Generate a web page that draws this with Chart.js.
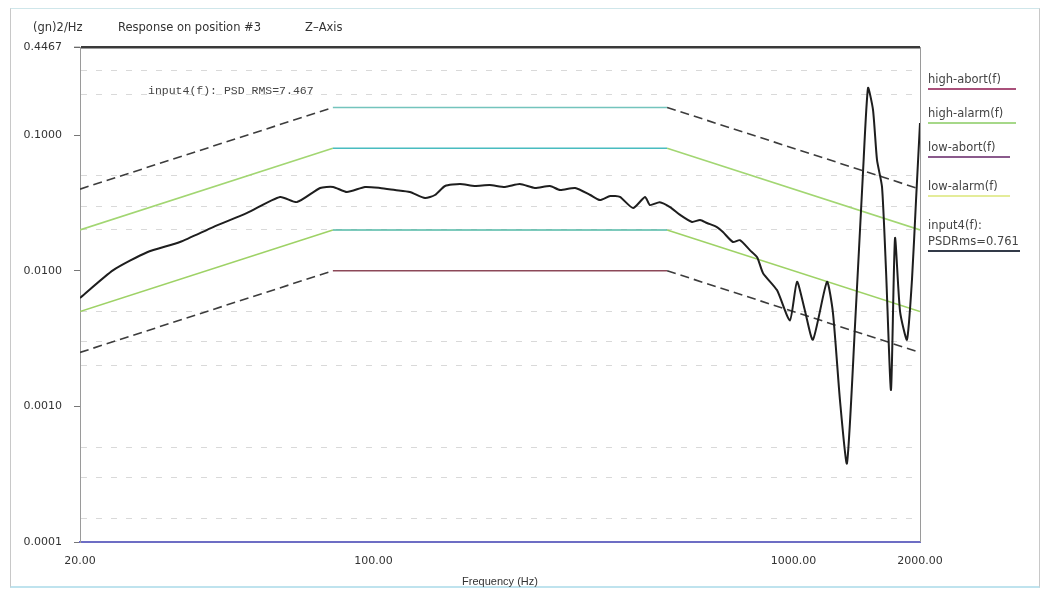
<!DOCTYPE html>
<html>
<head>
<meta charset="utf-8">
<script src="https://cdn.jsdelivr.net/npm/chart.js@4.4.1/dist/chart.umd.min.js"></script>
<style>
  html, body { margin: 0; padding: 0; background: #fff; }
  #wrap { position: relative; width: 1044px; height: 592px; overflow: hidden; font-family: "DejaVu Sans", Verdana, sans-serif; color: #333; }
  #frame { position: absolute; left: 10px; top: 8px; width: 1030px; height: 580px; border: 1px solid #c8c8c8; border-top-color: #cfe6ea; border-bottom: 2px solid #bfe3ee; box-sizing: border-box; }
  #chart { position: absolute; left: 0; top: 0; }
  .txt { position: absolute; font-size: 11.5px; white-space: nowrap; line-height: 14px; }
  .mono { font-family: "Liberation Mono", "DejaVu Sans Mono", monospace; font-size: 11.5px; color: #444; }
  .leg { position: absolute; left: 928px; font-size: 11.5px; line-height: 16px; color: #444; white-space: nowrap; padding-bottom: 1px; }
</style>
</head>
<body>
<div id="wrap">
  <div id="frame"></div>
  <canvas id="chart" width="1044" height="592"></canvas>
  <div class="txt" style="left:33px; top:20px;">(gn)2/Hz</div>
  <div class="txt" style="left:118px; top:20px;">Response on position #3</div>
  <div class="txt" style="left:305px; top:20px;">Z&#8211;Axis</div>
  <div class="txt mono" style="left:148px; top:84px;">input4(f): PSD RMS=7.467</div>
  <div class="leg" style="top:71px; width:88px; border-bottom:2px solid #a9507a;">high-abort(f)</div>
  <div class="leg" style="top:105px; width:88px; border-bottom:2px solid #a6d889;">high-alarm(f)</div>
  <div class="leg" style="top:139px; width:82px; border-bottom:2px solid #8a5a8c;">low-abort(f)</div>
  <div class="leg" style="top:178px; width:82px; border-bottom:2px solid #e4ec9a;">low-alarm(f)</div>
  <div class="leg" style="top:217px; width:92px; border-bottom:2px solid #333a48;">input4(f):<br>PSDRms=0.761</div>
</div>
<script>
// measured response (Hz, (gn)^2/Hz)
const responseFreq = [
  20, 24, 28.9, 34.6, 41.5, 50, 59.9, 65.7, 74.6, 80.1, 86.4, 95.4, 103.6, 112.5, 122,
  132.6, 140, 148, 160.6, 174, 189, 205.6, 223, 242, 263, 278, 302, 328, 346, 366,
  386, 415, 443, 455, 480, 508, 537, 573, 599, 622, 657, 679, 717, 745, 787, 819,
  846, 913, 980, 1019, 1064, 1112, 1201, 1241, 1290, 1340, 1400, 1463, 1504, 1546,
  1580, 1624, 1660, 1706, 1744, 1793, 1862, 1914, 1957, 2000
];
const responsePsd = [
  0.0063, 0.0101, 0.0137, 0.0163, 0.0210, 0.0267, 0.0350, 0.0321, 0.0408, 0.0415, 0.0381, 0.0415, 0.0408, 0.0394, 0.0381,
  0.0344, 0.0362, 0.0422, 0.0436, 0.0422, 0.0429, 0.0415, 0.0436, 0.0408, 0.0422, 0.0394, 0.0408, 0.0362, 0.0332, 0.0356,
  0.0350, 0.0290, 0.0350, 0.0305, 0.0320, 0.0295, 0.0258, 0.0229, 0.0237, 0.0225, 0.0210, 0.0193, 0.0163, 0.0168, 0.0142, 0.0126,
  0.0096, 0.0072, 0.0043, 0.0083, 0.0051, 0.0031, 0.0083, 0.0049, 0.0011, 0.00038, 0.00385, 0.0526, 0.2227, 0.1532,
  0.0656, 0.0415, 0.0101, 0.00132, 0.0174, 0.0050, 0.0031, 0.0086, 0.0332, 0.1229
];

// test profile breakpoints
const profileFreq = [20, 80, 500, 2000];
const highAbort = [0.04, 0.16, 0.16, 0.04];
const highAlarm = [0.02, 0.08, 0.08, 0.02];
const lowAlarm = [0.005, 0.02, 0.02, 0.005];
const lowAbort = [0.0025, 0.01, 0.01, 0.0025];

// axes
const xTickValues = [20, 100, 1000, 2000];
const xTickLabels = ['20.00', '100.00', '1000.00', '2000.00'];
const yTickValues = [0.0001, 0.001, 0.01, 0.1, 0.4467];
const yTickLabels = ['0.0001', '0.0010', '0.0100', '0.1000', '0.4467'];
const yMinorGrid = [0.00015, 0.0003, 0.0005, 0.002, 0.003, 0.005, 0.02, 0.03, 0.05, 0.2, 0.3];

const SLOPE_DASH = '#3c3c3c';
const TICK_FONT = { family: 'DejaVu Sans, Verdana, sans-serif', size: 11 };

function toPoints(xs, ys) {
  return xs.map((x, i) => ({ x, y: ys[i] }));
}

function profileDataset(label, values, slopeColor, flatColor, dashed) {
  return {
    label,
    data: toPoints(profileFreq, values),
    borderColor: slopeColor,
    borderWidth: 1.6,
    pointRadius: 0,
    tension: 0,
    segment: {
      borderColor: (ctx) => (ctx.p0DataIndex === 1 ? flatColor : slopeColor),
      borderDash: (ctx) => (ctx.p0DataIndex !== 1 && dashed ? [9, 5] : [])
    }
  };
}

const borderPlugin = {
  id: 'plotBorder',
  afterDraw(chart) {
    const { ctx, chartArea } = chart;
    ctx.save();
    ctx.strokeStyle = '#9a9a9a';
    ctx.lineWidth = 1;
    ctx.beginPath();
    ctx.moveTo(chartArea.right + 0.5, chartArea.top);
    ctx.lineTo(chartArea.right + 0.5, chartArea.bottom);
    ctx.stroke();
    ctx.restore();
  }
};

const canvas = document.getElementById('chart');
new Chart(canvas, {
  type: 'line',
  data: {
    datasets: [
      {
        label: 'input4(f)',
        data: toPoints(responseFreq, responsePsd),
        borderColor: '#1e1e1e',
        borderWidth: 2,
        pointRadius: 0,
        tension: 0.2
      },
      profileDataset('high-abort(f)', highAbort, SLOPE_DASH, '#74c4bd', true),
      profileDataset('high-alarm(f)', highAlarm, '#a2d672', '#48bcc0', false),
      profileDataset('low-alarm(f)', lowAlarm, '#9ed266', '#52b9a6', false),
      profileDataset('low-abort(f)', lowAbort, SLOPE_DASH, '#8c4858', true)
    ]
  },
  options: {
    responsive: false,
    animation: false,
    layout: { padding: { left: 0, top: 47, right: 124, bottom: 0 } },
    scales: {
      x: {
        type: 'logarithmic',
        min: 20,
        max: 2000,
        afterBuildTicks: (scale) => { scale.ticks = xTickValues.map((v) => ({ value: v })); },
        afterFit: (scale) => { scale.height = 50; },
        ticks: {
          autoSkip: false,
          maxRotation: 0,
          padding: 13,
          color: '#333',
          font: TICK_FONT,
          callback: (value) => xTickLabels[xTickValues.indexOf(value)] ?? ''
        },
        grid: { display: false, drawTicks: false },
        border: { color: '#6d6dc4', width: 2 },
        title: {
          display: true,
          text: 'Frequency (Hz)',
          color: '#333',
          font: { family: 'Liberation Sans, Arial, sans-serif', size: 11 },
          padding: { top: 0, bottom: 3 }
        }
      },
      y: {
        type: 'logarithmic',
        min: 0.0001,
        max: 0.4467,
        afterBuildTicks: (scale) => {
          const all = yTickValues.concat(yMinorGrid).sort((a, b) => a - b);
          scale.ticks = all.map((v) => ({ value: v }));
        },
        afterFit: (scale) => { scale.width = 80; },
        ticks: {
          autoSkip: false,
          padding: 12,
          color: '#333',
          font: TICK_FONT,
          callback: (value) => {
            const i = yTickValues.indexOf(value);
            return i >= 0 ? yTickLabels[i] : '';
          }
        },
        grid: {
          tickLength: 6,
          color: (ctx) => {
            const v = ctx.tick?.value;
            if (v === 0.4467) return '#3a3a3a';
            if (yTickValues.includes(v)) return 'rgba(0,0,0,0)';
            return 'rgba(120,120,120,0.28)';
          },
          lineWidth: (ctx) => (ctx.tick?.value === 0.4467 ? 2.5 : 1),
          tickColor: (ctx) => {
            const v = ctx.tick?.value;
            if (v === 0.4467) return '#3a3a3a';
            return yTickValues.includes(v) ? '#777' : 'rgba(0,0,0,0)';
          },
          tickWidth: 1
        },
        border: { color: '#9a9a9a', width: 1, dash: (ctx) => (ctx.tick?.value === 0.4467 ? [] : [6, 9]) }
      }
    },
    plugins: {
      legend: { display: false },
      tooltip: { enabled: false }
    }
  },
  plugins: [borderPlugin]
});
</script>
</body>
</html>
